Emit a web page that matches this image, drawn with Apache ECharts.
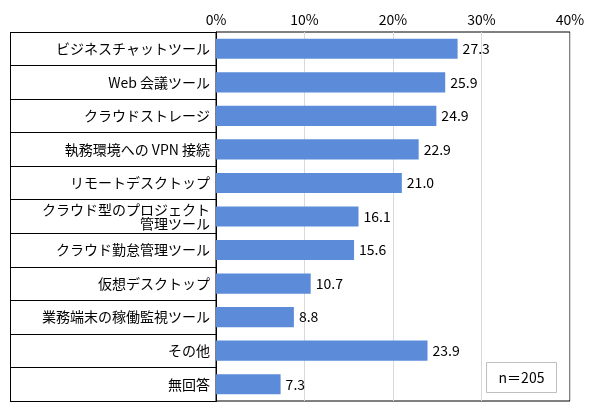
<!DOCTYPE html>
<html>
<head>
<meta charset="utf-8">
<script src="https://cdn.jsdelivr.net/npm/echarts@6/dist/echarts.min.js"></script>
<style>
  html, body { margin: 0; padding: 0; background: #fff; }
  #main { width: 590px; height: 413px; }
</style>
</head>
<body>
<div id="main"></div>
<script>
// 項目名
var categories = [
  'ビジネスチャットツール',
  'Web 会議ツール',
  'クラウドストレージ',
  '執務環境への VPN 接続',
  'リモートデスクトップ',
  'クラウド型のプロジェクト\n管理ツール',
  'クラウド勤怠管理ツール',
  '仮想デスクトップ',
  '業務端末の稼働監視ツール',
  'その他',
  '無回答'
];
// 割合(%)
var values = [27.3, 25.9, 24.9, 22.9, 21.0, 16.1, 15.6, 10.7, 8.8, 23.9, 7.3];
var sampleNote = 'n＝205';

var font = '"Noto Sans CJK JP", "Noto Sans", sans-serif';
var chart = echarts.init(document.getElementById('main'));

var option = {
  backgroundColor: '#fff',
  animation: false,
  textStyle: { fontFamily: font },
  grid: {
    left: 216,
    right: 20,
    top: 32,
    bottom: 12,
    show: true,
    borderColor: '#000',
    borderWidth: 1
  },
  xAxis: {
    type: 'value',
    position: 'top',
    min: 0,
    max: 40,
    interval: 10,
    axisLine: { show: false },
    axisTick: { show: false },
    axisLabel: {
      formatter: '{value}%',
      fontSize: 14,
      color: '#000',
      margin: 5,
      fontFamily: font
    },
    splitLine: { lineStyle: { color: '#d9d9d9', width: 1 } }
  },
  yAxis: {
    type: 'category',
    inverse: true,
    data: categories,
    axisLine: { show: true, lineStyle: { color: '#000' } },
    // 左側の区切り線
    axisTick: { show: true, length: 206, lineStyle: { color: '#000' } },
    axisLabel: {
      fontSize: 14,
      color: '#000',
      margin: 6,
      lineHeight: 14,
      fontFamily: font
    }
  },
  series: [{
    type: 'bar',
    data: values,
    barWidth: '60%',
    itemStyle: { color: '#5b8bd9' },
    label: {
      show: true,
      position: 'right',
      distance: 5,
      fontSize: 14,
      color: '#000',
      fontFamily: font,
      formatter: function (p) { return p.value.toFixed(1); }
    }
  }],
  graphic: [
    {
      type: 'rect',
      shape: { x: 10.5, y: 32.5, width: 206, height: 369 },
      style: { fill: null, stroke: '#000', lineWidth: 1 },
      silent: true
    },
    {
      type: 'rect',
      shape: { x: 486.5, y: 362.5, width: 70, height: 30 },
      style: { fill: '#fff', stroke: '#bfbfbf', lineWidth: 1 },
      z: 10
    },
    {
      type: 'text',
      x: 521.5,
      y: 377.5,
      style: {
        text: sampleNote,
        fontSize: 14,
        fontFamily: font,
        fill: '#000',
        align: 'center',
        verticalAlign: 'middle'
      },
      z: 11
    }
  ]
};

chart.setOption(option);
</script>
</body>
</html>
